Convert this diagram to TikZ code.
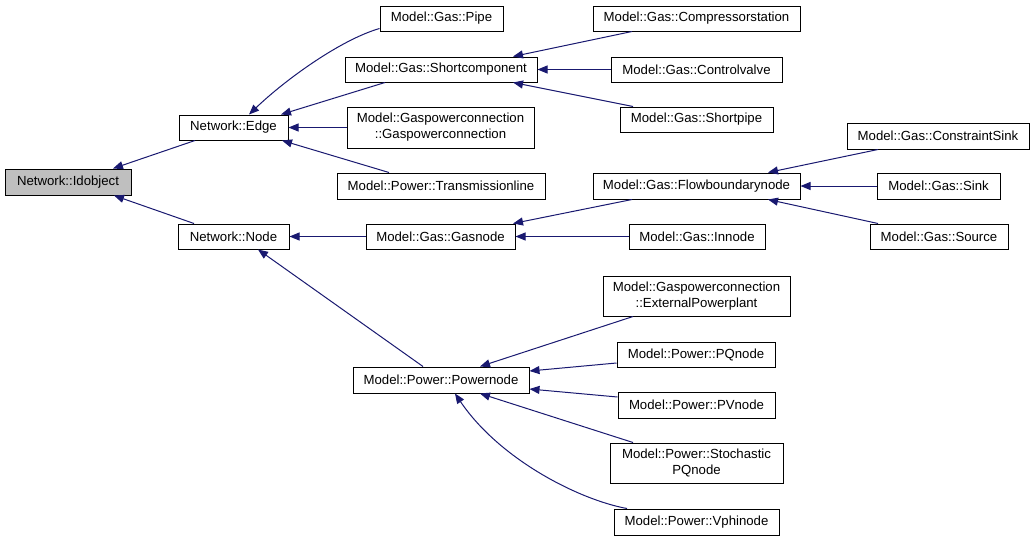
\documentclass[tikz,border=0pt]{standalone}
\usepackage{fontspec}
\setmainfont{Liberation Sans}
\usetikzlibrary{arrows.meta,calc}
\definecolor{edgeblue}{HTML}{191970}
\definecolor{rootgray}{HTML}{BFBFBF}
\tikzset{
  cls/.style={draw=black, line width=1pt, fill=white, inner sep=0pt,
    minimum height=25pt, align=center,
    font=\fontsize{13.2}{16}\selectfont},
  inh/.style={draw=edgeblue, line width=1pt,
    -{Triangle[length=10pt,width=8pt,fill=edgeblue]}},
}
\begin{document}
\begin{tikzpicture}[x=1pt,y=-1pt]
\useasboundingbox (0,0) rectangle (1036,541);
% nodes
\node[cls, fill=rootgray, minimum width=126pt, minimum height=26pt] (idobj) at (68,182) {Network::Idobject};
\node[cls, minimum width=109pt] (edge) at (233.5,127.5) {Network::Edge};
\node[cls, minimum width=111pt] (nnode) at (233.5,236.5) {Network::Node};
\node[cls, minimum width=123pt] (pipe) at (441.5,18.5) {Model::Gas::Pipe};
\node[cls, minimum width=192pt] (shortc) at (441,69.5) {Model::Gas::Shortcomponent};
\node[cls, minimum width=187pt, minimum height=41pt] (gpc) at (440.5,127.5) {Model::Gaspowerconnection\\::Gaspowerconnection};
\node[cls, minimum width=208pt, minimum height=26pt] (trans) at (441,186) {Model::Power::Transmissionline};
\node[cls, minimum width=149pt] (gasnode) at (440.5,236.5) {Model::Gas::Gasnode};
\node[cls, minimum width=207pt] (compr) at (696.5,18.5) {Model::Gas::Compressorstation};
\node[cls, minimum width=171pt] (ctrl) at (696.5,69.5) {Model::Gas::Controlvalve};
\node[cls, minimum width=153pt] (shortpipe) at (696.5,119.5) {Model::Gas::Shortpipe};
\node[cls, minimum width=207pt, minimum height=26pt] (flowb) at (696.5,186) {Model::Gas::Flowboundarynode};
\node[cls, minimum width=136pt] (innode) at (697,236.5) {Model::Gas::Innode};
\node[cls, minimum width=182pt, minimum height=26pt] (csink) at (938,136) {Model::Gas::ConstraintSink};
\node[cls, minimum width=123pt, minimum height=26pt] (sink) at (938.5,186) {Model::Gas::Sink};
\node[cls, minimum width=138pt] (source) at (939,236.5) {Model::Gas::Source};
\node[cls, minimum width=176pt, minimum height=26pt] (powern) at (441,380) {Model::Power::Powernode};
\node[cls, minimum width=187pt, minimum height=40pt] (extpp) at (696.5,296) {Model::Gaspowerconnection\\::ExternalPowerplant};
\node[cls, minimum width=158pt] (pq) at (696,354.5) {Model::Power::PQnode};
\node[cls, minimum width=157pt, minimum height=26pt] (pv) at (696.5,405) {Model::Power::PVnode};
\node[cls, minimum width=173pt, minimum height=40pt] (stoch) at (696.5,463) {Model::Power::Stochastic\\PQnode};
\node[cls, minimum width=165pt, minimum height=26pt] (vphi) at (696.5,522) {Model::Power::Vphinode};
% inheritance connectors (child -> parent)
\draw[inh] ($(edge.south)+(-38.5,0)$) -- ($(idobj.north)+(45,0)$);
\draw[inh] ($(nnode.north)+(-39.5,0)$) -- ($(idobj.south)+(46,0)$);
\draw[inh] ($(pipe.south west)+(0,-3)$) .. controls (340,40) and (285,80) .. ($(edge.north)+(15.5,0)$);
\draw[inh] ($(shortc.south)+(-56,0)$) -- ($(edge.north)+(47.5,0)$);
\draw[inh] (gpc.west) -- (edge.east);
\draw[inh] ($(trans.north)+(-52,0)$) -- ($(edge.south)+(48.5,0)$);
\draw[inh] ($(compr.south)+(-64.5,0)$) -- ($(shortc.north)+(72,0)$);
\draw[inh] (ctrl.west) -- (shortc.east);
\draw[inh] ($(shortpipe.north)+(-63.5,0)$) -- ($(shortc.south)+(72,0)$);
\draw[inh] (gasnode.west) -- (nnode.east);
\draw[inh] ($(powern.north)+(-18,0)$) -- ($(nnode.south)+(24.5,0)$);
\draw[inh] ($(flowb.south)+(-64.5,0)$) -- ($(gasnode.north)+(72.5,0)$);
\draw[inh] (innode.west) -- (gasnode.east);
\draw[inh] ($(csink.south)+(-60,0)$) -- ($(flowb.north)+(71.5,0)$);
\draw[inh] (sink.west) -- (flowb.east);
\draw[inh] ($(source.north)+(-61,0)$) -- ($(flowb.south)+(71.5,0)$);
\draw[inh] ($(extpp.south)+(-63.5,0)$) -- ($(powern.north)+(39,0)$);
\draw[inh] ($(pq.west)+(0,8.5)$) -- ($(powern.east)+(0,-9)$);
\draw[inh] ($(pv.west)+(0,-8)$) -- ($(powern.east)+(0,9)$);
\draw[inh] ($(stoch.north)+(-63.5,0)$) -- ($(powern.south)+(39,0)$);
\draw[inh] ($(vphi.north)+(-69.5,0)$) .. controls (580,500) and (500,460) .. ($(powern.south)+(14,0)$);
\end{tikzpicture}
\end{document}
